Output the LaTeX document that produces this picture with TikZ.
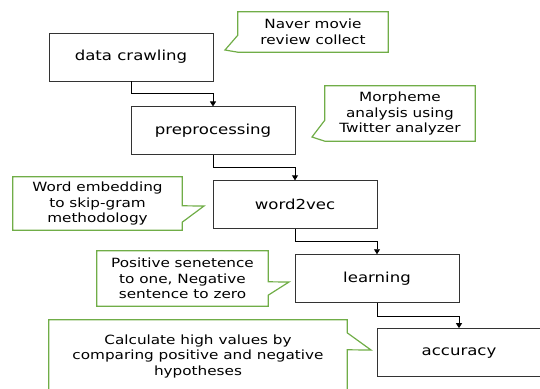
\documentclass[tikz,border=0pt]{standalone}
\usepackage{fontspec}
\setsansfont{DejaVu Sans}[FakeStretch=1.2]
\usetikzlibrary{arrows.meta,positioning}
\definecolor{notegreen}{RGB}{112,173,71}

\begin{document}
\begin{tikzpicture}[
  x=1pt, y=-1pt,
  font=\sffamily,
  >={Triangle[width=6pt,length=5pt]},
  node distance=25pt,
  stage/.style={rectangle, draw=black!80, line width=0.9pt, fill=white, minimum width=164pt, minimum height=48pt, inner sep=0pt, font=\sffamily\fontsize{13.8}{16}\selectfont},
  note/.style={rectangle, inner sep=0pt, align=center, font=\sffamily\fontsize{12.7}{15.5}\selectfont},
  noteline/.style={draw=notegreen, line width=1.2pt},
  link/.style={->, draw=black, line width=0.8pt}
]
\useasboundingbox (0,0) rectangle (540,388);

\node[stage] (crawl) at (131,57) {data crawling};
\node[stage, below=of crawl, xshift=82pt] (prep) {preprocessing};
\node[stage, below=of prep, xshift=82pt] (w2v) {word2vec};
\node[stage, below=of w2v, xshift=82pt] (learn) {learning};
\node[stage, below=of learn, xshift=82pt] (acc) {accuracy};

\draw[link] (crawl.south) -- ++(0,12) -| (prep.north);
\draw[link] (prep.south) -- ++(0,12) -| (w2v.north);
\draw[link] (w2v.south) -- ++(0,12) -| (learn.north);
\draw[link] (learn.south) -- ++(0,13) -| (acc.north);

\node[note, minimum width=150pt, minimum height=40pt] (naver) at (313,32) {Naver movie\\review collect};
\node[note, minimum width=150pt, minimum height=55pt] (morph) at (400,113.5) {Morpheme\\analysis using\\Twitter analyzer};
\node[note, minimum width=169pt, minimum height=53pt] (embed) at (97.5,203.5) {Word embedding\\to skip-gram\\methodology};
\node[note, minimum width=171pt, minimum height=55pt] (posi) at (182.5,278.5) {Positive senetence\\to one, Negative\\sentence to zero};
\node[note, minimum width=298pt, minimum height=72pt] (calc) at (198,356) {Calculate high values by\\comparing positive and negative\\hypotheses};

\coordinate (naverTip) at (225,50);
\coordinate (morphTip) at (312,137);
\coordinate (embedTip) at (204,206);
\coordinate (posiTip) at (289,282);
\coordinate (calcTip) at (371,350);

\draw[noteline] (naver.north west) -- (naver.north east) -- (naver.south east) -- (naver.south west) -- (naverTip) -- ([yshift=17pt]naver.south west) -- cycle;
\draw[noteline] (morph.north west) -- (morph.north east) -- (morph.south east) -- (morph.south west) -- (morphTip) -- ([yshift=21pt]morph.south west) -- cycle;
\draw[noteline] (embed.south east) -- (embed.south west) -- (embed.north west) -- (embed.north east) -- ([yshift=-29pt]embed.north east) -- (embedTip) -- ([yshift=8pt]embed.south east) -- cycle;
\draw[noteline] (posi.south east) -- (posi.south west) -- (posi.north west) -- (posi.north east) -- ([yshift=-31pt]posi.north east) -- (posiTip) -- ([yshift=11pt]posi.south east) -- cycle;
\draw[noteline] (calc.south east) -- (calc.south west) -- (calc.north west) -- (calc.north east) -- ([yshift=-13pt]calc.north east) -- (calcTip) -- ([yshift=-30pt]calc.north east) -- cycle;
\end{tikzpicture}
\end{document}
